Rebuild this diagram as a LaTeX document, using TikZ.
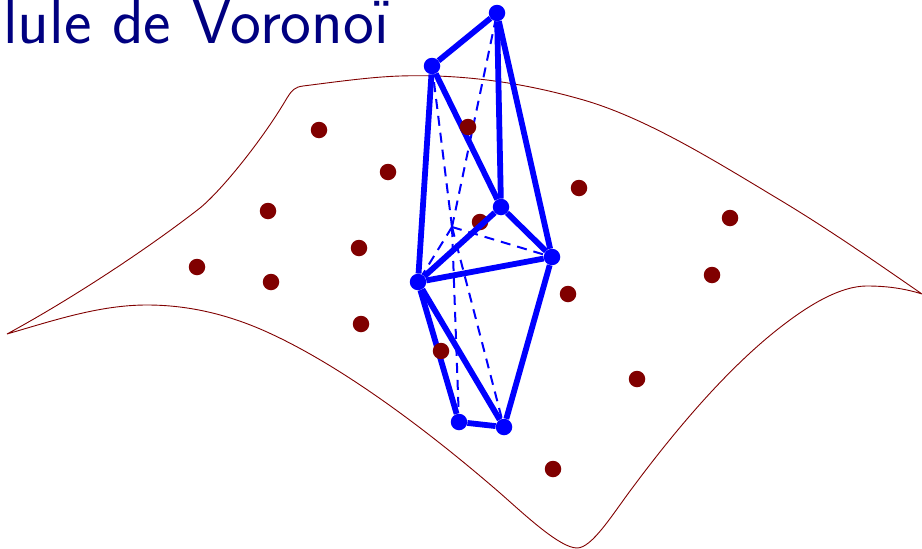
\documentclass[tikz,border=0pt]{standalone}
\usepackage{xcolor}
\usepackage{tikz}
\definecolor{darkred}{HTML}{800000}
\definecolor{titleblue}{HTML}{000080}
\begin{document}
\begin{tikzpicture}[
    x=1pt, y=-1pt,
    vertex/.style={circle, fill=blue, inner sep=0pt, minimum size=16.5pt},
    site/.style={circle, fill=darkred, inner sep=0pt, minimum size=16.5pt},
    edge/.style={draw=blue, line width=5.8pt},
    hidden/.style={draw=blue, line width=2pt, dash pattern=on 10pt off 7pt}
]
\useasboundingbox (0,0) rectangle (922,549);
\clip (0,0) rectangle (922,549);
% titre
\node[anchor=base east, text=titleblue, inner sep=0pt, font=\sffamily\fontsize{65.5}{70}\selectfont] (title) at (389,43) {Cellule de Voronoï};
% surface
\draw[darkred, line width=0.9pt] (7,334)
    .. controls (75,297) and (150,247) .. (200,208)
    .. controls (222,190) and (263,139) .. (287,98)
    .. controls (292,90) and (295,87) .. (303,86)
    .. controls (335,82) and (370,77) .. (400,76)
    .. controls (460,74) and (520,82) .. (580,99)
    .. controls (645,117) and (715,161) .. (780,200)
    .. controls (830,230) and (880,265) .. (922,294)
    .. controls (903,288) and (885,286) .. (867,286)
    .. controls (835,286) and (797,313) .. (767,338)
    .. controls (722,376) and (677,428) .. (633,487)
    .. controls (612,515) and (592,548) .. (577,548)
    .. controls (560,548) and (525,515) .. (500,493)
    .. controls (425,428) and (340,365) .. (267,332)
    .. controls (225,313) and (185,305) .. (147,305)
    .. controls (100,305) and (55,320) .. (7,334);
% sites sous la cellule
\node[site] (s0) at (480,222) {};
% sommets
\node[vertex] (a) at (497,13) {};
\node[vertex] (b) at (432,66) {};
\node[vertex] (c) at (501,207) {};
\node[vertex] (d) at (552,257) {};
\node[vertex] (e) at (418,282) {};
\node[vertex] (f) at (459,422) {};
\node[vertex] (g) at (504,427) {};
\coordinate (h) at (452,227);
% aretes cachees
\foreach \v in {a,b,d,e,f,g}
    \draw[hidden] (h) -- (\v);
% aretes
\foreach \u/\v in {a/b,a/c,a/d,b/c,b/e,c/d,c/e,d/e,e/f,e/g,f/g,d/g}
    \draw[edge] (\u) -- (\v);
% sites
\foreach \i/\x/\y in {1/319/130,2/388/172,3/468/127,4/579/188,5/268/211,6/359/248,7/730/218,8/197/267,9/271/282,10/712/275,11/568/294,12/361/324,13/441/351,14/637/379,15/553/469}
    \node[site] (s\i) at (\x,\y) {};
\end{tikzpicture}
\end{document}
